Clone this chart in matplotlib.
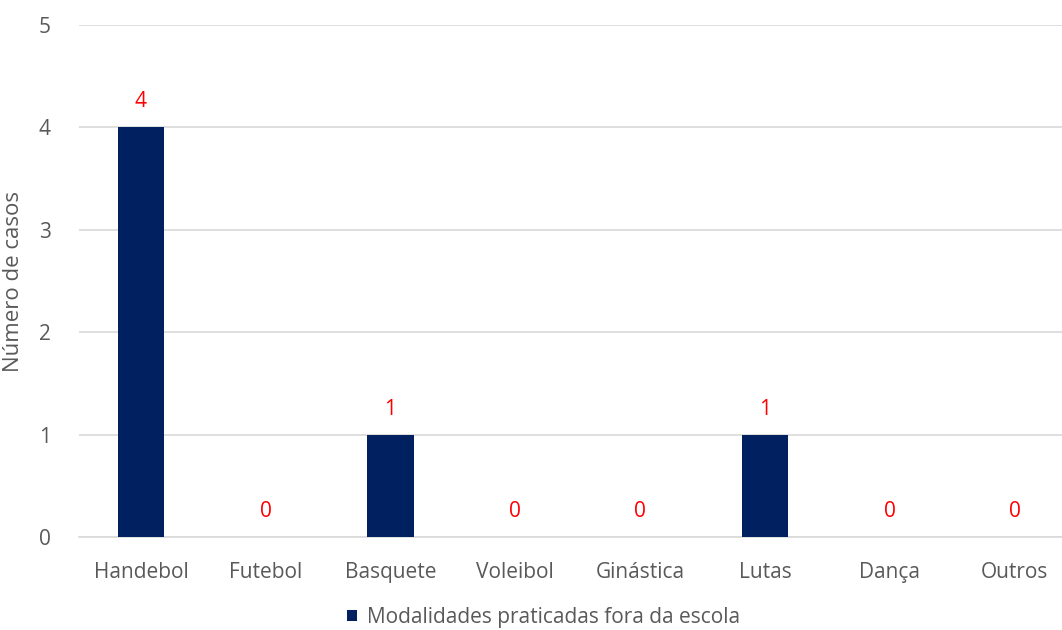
import matplotlib.pyplot as plt
import numpy as np

# dados
modalidades = ['Handebol', 'Futebol', 'Basquete', 'Voleibol', 'Ginástica', 'Lutas', 'Dança', 'Outros']
casos = [4, 0, 1, 0, 0, 1, 0, 0]
serie = 'Modalidades praticadas fora da escola'

plt.rcParams['font.family'] = ['Open Sans', 'DejaVu Sans']
cinza = '#595959'

fig = plt.figure(figsize=(10.62, 6.3), dpi=100)
ax = fig.add_axes([0.074, 0.1476, 0.94, 0.8127])

x = np.arange(len(modalidades))
ax.bar(x, casos, width=0.37, color='#002060', label=serie, zorder=3)

# rótulos de dados
for xi, v in zip(x, casos):
    ax.text(xi, v + 0.25, str(v), ha='center', va='center', color='#ff0000',
            fontsize=15, fontweight='medium')

ax.set_ylim(0, 5)
ax.set_xlim(-0.5, len(modalidades) - 0.5)
ax.set_yticks(range(6))
ax.set_xticks(x)
ax.set_xticklabels(modalidades)
ax.tick_params(axis='both', length=0, labelsize=15, colors=cinza)
ax.tick_params(axis='x', pad=18)
ax.tick_params(axis='y', pad=20)
ax.grid(axis='y', color='#d9d9d9', linewidth=1.2, zorder=0)
for s in ['top', 'right', 'left']:
    ax.spines[s].set_visible(False)
ax.spines['bottom'].set_color('#d9d9d9')
ax.spines['bottom'].set_linewidth(1.2)

ax.set_ylabel('Número de casos', fontsize=16, color=cinza)
ax.yaxis.set_label_coords(-0.055, 0.5)

leg = ax.legend(loc='center', bbox_to_anchor=(0.512, 0.02), bbox_transform=fig.transFigure,
                frameon=False, fontsize=15, handlelength=0.45, handleheight=0.45, handletextpad=0.5)
for t in leg.get_texts():
    t.set_color(cinza)

fig.savefig('out.png', dpi=100)
